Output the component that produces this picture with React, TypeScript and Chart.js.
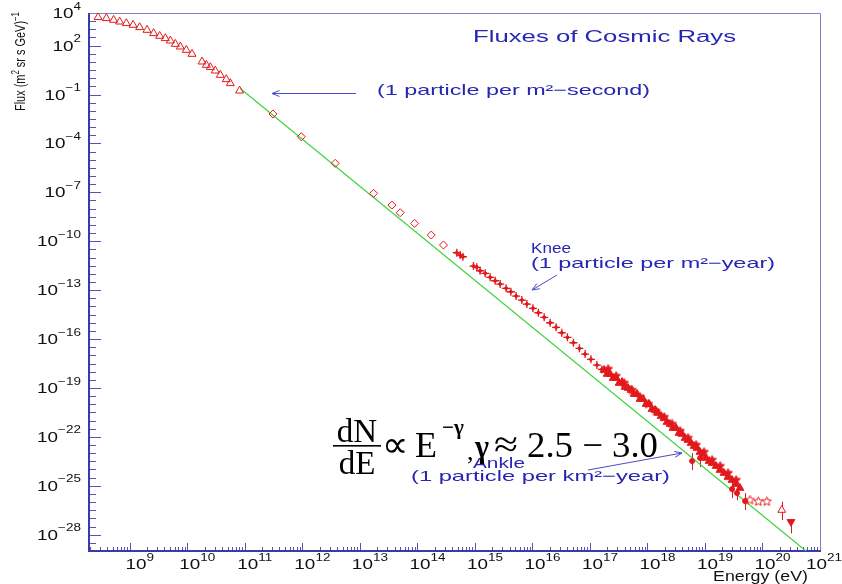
import { useEffect, useRef } from "react";
import { Chart, registerables } from "chart.js";

Chart.register(...registerables);

// Low-energy spectrum (open triangles): energy in eV, flux in (m² sr s GeV)⁻¹
const lowEnergyE = [2.8e8, 3.91e8, 5.22e8, 6.65e8, 8.69e8, 1.14e9, 1.48e9, 1.99e9, 2.59e9, 3.3e9, 4.14e9, 5.06e9, 6.18e9, 7.55e9, 9.59e9, 1.205e10, 1.8e10, 2.14e10, 2.51e10, 3.06e10, 3.74e10, 4.75e10, 5.58e10, 8.09e10];
const lowEnergyFlux = [5450, 4730, 3720, 2920, 2330, 1840, 1330, 906, 569, 388, 281, 200, 125, 85.7, 53.7, 30.5, 10.3, 6.46, 4.67, 2.88, 1.57, 0.857, 0.486, 0.171];

// Direct measurements (open diamonds)
const directE = [3.08e11, 9.57e11, 3.72e12, 1.73e13, 3.61e13, 5.02e13, 8.91e13, 1.74e14, 2.84e14];
const directFlux = [6.37e-3, 2.58e-4, 6.01e-6, 8.69e-8, 1.66e-8, 5.6e-9, 1.25e-9, 2.4e-10, 5.85e-11];

// Knee region (crosses)
const kneeE = [4.85e14, 5.55e14, 6.18e14, 9.44e14, 1.08e15, 1.23e15, 1.51e15, 1.84e15, 2.25e15, 2.75e15, 3.49e15, 4.22e15, 5.21e15, 6.55e15, 8.0e15, 1.02e16, 1.27e16, 1.6e16, 2.03e16, 2.58e16, 3.24e16, 4.06e16, 5.16e16, 6.56e16, 8.24e16, 1.04e17, 1.32e17, 1.61e17];
const kneeFlux = [1.97e-11, 1.42e-11, 1.12e-11, 3.01e-12, 2.51e-12, 1.55e-12, 1.07e-12, 6.1e-13, 3.78e-13, 2.37e-13, 1.29e-13, 7.98e-14, 4.35e-14, 2.47e-14, 1.4e-14, 7.64e-15, 4.1e-15, 2.14e-15, 1.0e-15, 5.22e-16, 2.44e-16, 1.27e-16, 5.93e-17, 2.69e-17, 1.2e-17, 5.69e-18, 2.54e-18, 1.38e-18];

// Air-shower data up to the ankle (filled triangles)
const ankleE = [1.76e17, 1.99e17, 2.24e17, 2.53e17, 2.85e17, 3.21e17, 3.62e17, 4.08e17, 4.6e17, 5.19e17, 5.85e17, 6.61e17, 7.45e17, 8.39e17, 9.46e17, 1.07e18, 1.2e18, 1.36e18, 1.53e18, 1.73e18, 1.95e18, 2.19e18, 2.47e18, 2.79e18, 3.14e18, 3.54e18, 4.0e18, 4.51e18, 5.08e18, 5.73e18, 6.46e18, 7.28e18, 8.2e18, 9.25e18, 1.04e19, 1.18e19, 1.33e19, 1.56e19, 1.83e19, 2.14e19, 2.52e19, 2.95e19, 3.47e19, 4.06e19];
const ankleFlux = [1.25e-18, 7.13e-19, 7.13e-19, 4.05e-19, 4.05e-19, 2.0e-19, 2.3e-19, 1.14e-19, 9.86e-20, 7.43e-20, 4.23e-20, 4.23e-20, 2.08e-20, 2.08e-20, 1.03e-20, 1.03e-20, 5.08e-21, 4.41e-21, 2.88e-21, 1.89e-21, 1.42e-21, 8.09e-22, 6.1e-22, 3.47e-22, 3.47e-22, 1.71e-22, 1.49e-22, 8.43e-23, 6.37e-23, 4.17e-23, 2.73e-23, 2.06e-23, 1.17e-23, 8.81e-24, 5.0e-24, 3.27e-24, 2.47e-24, 1.62e-24, 9.18e-25, 6.01e-25, 3.42e-25, 2.24e-25, 1.27e-25, 7.23e-26];

// Second air-shower set (stars)
const showerE = [2.07e17, 2.85e17, 3.93e17, 5.41e17, 7.45e17, 1.03e18, 1.41e18, 1.95e18, 2.68e18, 3.69e18, 5.08e18, 7.0e18, 9.64e18, 1.33e19, 1.83e19, 2.52e19, 3.47e19];
const showerFlux = [1.45e-18, 5.37e-19, 2.0e-19, 7.41e-20, 2.75e-20, 1.02e-20, 3.8e-21, 1.62e-21, 6.17e-22, 2.29e-22, 8.51e-23, 3.16e-23, 1.17e-23, 3.8e-24, 1.62e-24, 6.03e-25, 2.24e-25];

// Points above the ankle with error bars
const barE = [5.97e18, 8.22e18, 2.96e19, 3.61e19, 4.98e19];
const barFlux = [3.27e-24, 5.0e-24, 6.31e-26, 3.55e-26, 1.15e-26];
const barHigh = [1.0e-23, 1.55e-23, 2.24e-25, 8.32e-26, 3.55e-26];
const barLow = [9.18e-25, 1.4e-24, 1.76e-26, 1.32e-26, 3.24e-27];

// Highest-energy events
const topStarE = [6.08e19, 8.47e19, 1.19e20];
const topStarFlux = [1.33e-26, 1.07e-26, 1.07e-26];
const upTriE = [2.16e20];
const upTriFlux = [3.24e-27];
const upTriHigh = [1.05e-26];
const upTriLow = [7.94e-28];
const downTriE = [3.13e20];
const downTriFlux = [6.17e-28];
const downTriHigh = [8.0e-28];
const downTriLow = [1.2e-28];

// Power-law guide line
const powerLawE = [8.32e10, 5.71e20];
const powerLawFlux = [0.233, 1e-29];

// Axis labels (powers of ten)
const xLabelExps = [9, 10, 11, 12, 13, 14, 15, 16, 17, 18, 19, 20, 21];
const yLabelExps = [4, 2, -1, -4, -7, -10, -13, -16, -19, -22, -25, -28];

const RED = "#e2191c";
const GREEN = "#3fd33f";
const AXIS = "#3a3aa8";
const FRAME = "#8080c8";
const TICK = "#5656b0";
const TEXT_BLUE = "#2626b2";
const ARROW_BLUE = "#4a4ac4";
const SANS = '"Liberation Sans", Arial, sans-serif';
const SERIF = '"Liberation Serif", "Times New Roman", serif';

type Seg = { t: string; sup?: boolean };
type RichOpts = {
  size: number;
  color: string;
  align: "left" | "right" | "center";
  width?: number;
  sx?: number;
  supSize?: number;
  rise?: number;
  family?: string;
  weight?: string;
  maxRight?: number;
};

function drawRich(ctx: CanvasRenderingContext2D, segs: Seg[], x: number, y: number, o: RichOpts) {
  const family = o.family ?? SANS;
  const weight = o.weight ? o.weight + " " : "";
  const supSize = o.supSize ?? o.size * 0.72;
  const rise = o.rise ?? o.size * 0.42;
  const widths = segs.map((s) => {
    ctx.font = `${weight}${s.sup ? supSize : o.size}px ${family}`;
    return ctx.measureText(s.t).width;
  });
  const natural = widths.reduce((p, c) => p + c, 0);
  const sx = o.width ? o.width / natural : o.sx ?? 1;
  const total = natural * sx;
  let cx = o.align === "right" ? x - total : o.align === "center" ? x - total / 2 : x;
  if (o.maxRight !== undefined && cx + total > o.maxRight) cx = o.maxRight - total;
  ctx.save();
  ctx.fillStyle = o.color;
  ctx.textAlign = "left";
  ctx.textBaseline = "alphabetic";
  segs.forEach((s, i) => {
    ctx.font = `${weight}${s.sup ? supSize : o.size}px ${family}`;
    ctx.save();
    ctx.translate(cx, y - (s.sup ? rise : 0));
    ctx.scale(sx, 1);
    ctx.fillText(s.t, 0, 0);
    ctx.restore();
    cx += widths[i] * sx;
  });
  ctx.restore();
}

function powerSegs(exp: number): Seg[] {
  const e = exp < 0 ? "\u2212" + Math.abs(exp) : String(exp);
  return [{ t: "10" }, { t: e, sup: true }];
}

function arrow(ctx: CanvasRenderingContext2D, x0: number, y0: number, x1: number, y1: number) {
  const ang = Math.atan2(y1 - y0, x1 - x0);
  const h = 8;
  ctx.save();
  ctx.strokeStyle = ARROW_BLUE;
  ctx.lineWidth = 1;
  ctx.beginPath();
  ctx.moveTo(x0, y0);
  ctx.lineTo(x1, y1);
  ctx.moveTo(x1 - h * Math.cos(ang - 0.38), y1 - h * Math.sin(ang - 0.38));
  ctx.lineTo(x1, y1);
  ctx.lineTo(x1 - h * Math.cos(ang + 0.38), y1 - h * Math.sin(ang + 0.38));
  ctx.stroke();
  ctx.restore();
}

function makeStar(size: number, filled: boolean): HTMLCanvasElement {
  const c = document.createElement("canvas");
  c.width = size;
  c.height = size;
  const g = c.getContext("2d")!;
  const cx = size / 2;
  const R = size / 2 - 0.8;
  const r = R * 0.45;
  g.beginPath();
  for (let i = 0; i < 10; i++) {
    const a = -Math.PI / 2 + (i * Math.PI) / 5;
    const rr = i % 2 ? r : R;
    g.lineTo(cx + rr * Math.cos(a), cx + rr * Math.sin(a));
  }
  g.closePath();
  if (filled) {
    g.fillStyle = RED;
    g.fill();
  }
  g.strokeStyle = RED;
  g.lineWidth = 1;
  g.stroke();
  return c;
}

const pts = (xs: number[], ys: number[]) => xs.map((v, i) => ({ x: v, y: ys[i] }));

const decorPlugin = {
  id: "decor",
  beforeDatasetsDraw(chart: any) {
    const { ctx, chartArea: a, scales } = chart;
    const x = scales.x;
    const y = scales.y;
    ctx.save();

    // ticks on the bottom axis (decades and 2..9 subdivisions)
    ctx.strokeStyle = TICK;
    ctx.lineWidth = 1;
    ctx.beginPath();
    for (let d = 8; d <= 21; d++) {
      for (let m = 1; m <= 9; m++) {
        const v = m * Math.pow(10, d);
        if (v < x.min * 0.999 || v > x.max * 1.001) continue;
        const px = Math.round(x.getPixelForValue(v)) + 0.5;
        const len = m === 1 ? 8 : 4;
        ctx.moveTo(px, a.bottom);
        ctx.lineTo(px, a.bottom - len);
      }
    }
    // ticks on the left axis, every half decade
    for (let k = -58; k <= 8; k++) {
      const e = k / 2;
      const py = Math.round(y.getPixelForValue(Math.pow(10, e))) + 0.5;
      const labelled = k % 2 === 0 && yLabelExps.includes(e);
      const len = labelled ? 12 : 7;
      ctx.moveTo(a.left, py);
      ctx.lineTo(a.left + len, py);
    }
    ctx.stroke();

    // frame
    ctx.strokeStyle = FRAME;
    ctx.lineWidth = 1;
    ctx.beginPath();
    ctx.moveTo(a.left, a.top + 0.5);
    ctx.lineTo(a.right + 0.5, a.top + 0.5);
    ctx.lineTo(a.right + 0.5, a.bottom);
    ctx.stroke();
    ctx.strokeStyle = AXIS;
    ctx.lineWidth = 2;
    ctx.beginPath();
    ctx.moveTo(a.left, a.top);
    ctx.lineTo(a.left, a.bottom);
    ctx.lineTo(a.right + 1, a.bottom);
    ctx.stroke();

    // tick labels
    yLabelExps.forEach((e) => {
      const py = y.getPixelForValue(Math.pow(10, e));
      drawRich(ctx, powerSegs(e), 81, py + 5, { size: 14, supSize: 10, rise: 8.4, sx: 1.35, color: "#111", align: "right" });
    });
    xLabelExps.forEach((e) => {
      const px = x.getPixelForValue(Math.pow(10, e));
      drawRich(ctx, powerSegs(e), px + 10, 569, { size: 14, supSize: 10, rise: 8.4, sx: 1.35, color: "#111", align: "center", maxRight: 842 });
    });

    // axis titles
    drawRich(ctx, [{ t: "Energy (eV)" }], 808, 581, { size: 14, width: 95, color: "#111", align: "right" });
    ctx.save();
    ctx.translate(25, 111);
    ctx.rotate(-Math.PI / 2);
    drawRich(
      ctx,
      [{ t: "Flux (m" }, { t: "2", sup: true }, { t: " sr s GeV)" }, { t: "\u22121", sup: true }],
      0,
      0,
      { size: 14, width: 99, color: "#111", align: "left" }
    );
    ctx.restore();

    // title and annotations
    drawRich(ctx, [{ t: "Fluxes of Cosmic Rays" }], 473, 42, { size: 16, width: 263, color: TEXT_BLUE, align: "left" });
    drawRich(ctx, [{ t: "(1 particle per m\u00b2\u2212second)" }], 377, 95, { size: 15, width: 273, color: TEXT_BLUE, align: "left" });
    arrow(ctx, 356, 93.5, 272, 93.5);
    drawRich(ctx, [{ t: "Knee" }], 531, 253, { size: 15, width: 40, color: TEXT_BLUE, align: "left" });
    drawRich(ctx, [{ t: "(1 particle per m\u00b2\u2212year)" }], 531, 268, { size: 15, width: 244, color: TEXT_BLUE, align: "left" });
    arrow(ctx, 557, 275, 532, 290);
    drawRich(ctx, [{ t: "Ankle" }], 473, 468, { size: 15, width: 52, color: TEXT_BLUE, align: "left" });
    drawRich(ctx, [{ t: "(1 particle per km\u00b2\u2212year)" }], 411, 481, { size: 15, width: 259, color: TEXT_BLUE, align: "left" });
    arrow(ctx, 588, 470, 682, 453);

    // error bars
    ctx.strokeStyle = RED;
    ctx.lineWidth = 1;
    ctx.beginPath();
    const bars = (xs: number[], hi: number[], lo: number[]) =>
      xs.forEach((v, i) => {
        const px = Math.round(x.getPixelForValue(v)) + 0.5;
        ctx.moveTo(px, y.getPixelForValue(hi[i]));
        ctx.lineTo(px, y.getPixelForValue(lo[i]));
      });
    bars(barE, barHigh, barLow);
    bars(upTriE, upTriHigh, upTriLow);
    bars(downTriE, downTriHigh, downTriLow);
    ctx.stroke();
    ctx.restore();
  },
  afterDatasetsDraw(chart: any) {
    const { ctx } = chart;
    ctx.save();
    ctx.fillStyle = "#000";
    ctx.textBaseline = "alphabetic";
    ctx.textAlign = "center";
    ctx.font = `33px ${SERIF}`;
    ctx.fillText("dN", 357, 442);
    ctx.fillText("dE", 357, 474);
    ctx.fillRect(333, 445, 48, 1.6);
    ctx.textAlign = "left";
    ctx.font = `37px ${SERIF}`;
    ctx.fillText("\u221d", 382, 457);
    ctx.font = `36px ${SERIF}`;
    ctx.fillText("E", 415, 457);
    ctx.font = `bold 21px ${SERIF}`;
    ctx.fillText("\u2212\u03b3", 442, 434);
    ctx.font = `26px ${SERIF}`;
    ctx.fillText(",", 467, 460);
    ctx.restore();
    drawRich(ctx, [{ t: "\u03b3" }], 475, 457, { size: 32, width: 14, color: "#000", align: "left", family: SERIF, weight: "bold" });
    drawRich(ctx, [{ t: "\u2248" }], 494, 457, { size: 38, width: 24, color: "#000", align: "left", family: SERIF });
    drawRich(ctx, [{ t: "2.5 \u2212 3.0" }], 527, 457, { size: 36, width: 131, color: "#000", align: "left", family: SERIF });
  },
};

export default function App() {
  const ref = useRef<HTMLCanvasElement | null>(null);

  useEffect(() => {
    if (!ref.current) return;
    const openStar = makeStar(11, false);
    const filledStar = makeStar(11, true);
    const clear = "rgba(0,0,0,0)";
    const chart = new Chart(ref.current, {
      type: "scatter",
      data: {
        datasets: [
          { label: "ankle", data: pts(ankleE, ankleFlux), pointStyle: "triangle", pointRadius: 4.5, pointBackgroundColor: RED, pointBorderColor: RED, pointBorderWidth: 1 },
          { label: "shower", data: pts(showerE, showerFlux), pointStyle: filledStar, pointRadius: 5, pointBackgroundColor: RED, pointBorderColor: RED },
          { label: "bars", data: pts(barE, barFlux), pointStyle: "circle", pointRadius: 2.5, pointBackgroundColor: RED, pointBorderColor: RED, pointBorderWidth: 1 },
          { label: "top stars", data: pts(topStarE, topStarFlux), pointStyle: openStar, pointRadius: 5, pointBackgroundColor: clear, pointBorderColor: RED },
          { label: "up", data: pts(upTriE, upTriFlux), pointStyle: "triangle", pointRadius: 4.5, pointBackgroundColor: "#fff", pointBorderColor: RED, pointBorderWidth: 1 },
          { label: "down", data: pts(downTriE, downTriFlux), pointStyle: "triangle", pointRotation: 180, pointRadius: 4.5, pointBackgroundColor: RED, pointBorderColor: RED, pointBorderWidth: 1 },
          { label: "knee dots", data: pts(kneeE, kneeFlux), pointStyle: "rectRot", pointRadius: 2, pointBackgroundColor: RED, pointBorderColor: RED, pointBorderWidth: 1 },
          { label: "knee", data: pts(kneeE, kneeFlux), pointStyle: "cross", pointRadius: 4, pointBorderColor: RED, pointBorderWidth: 1.3 },
          { label: "direct", data: pts(directE, directFlux), pointStyle: "rectRot", pointRadius: 4, pointBackgroundColor: clear, pointBorderColor: RED, pointBorderWidth: 1 },
          { label: "low energy", data: pts(lowEnergyE, lowEnergyFlux), pointStyle: "triangle", pointRadius: 4.6, pointBackgroundColor: clear, pointBorderColor: RED, pointBorderWidth: 1 },
          { label: "power law", data: pts(powerLawE, powerLawFlux), showLine: true, borderColor: GREEN, borderWidth: 1.2, pointRadius: 0 },
        ],
      },
      options: {
        animation: false,
        responsive: false,
        devicePixelRatio: 1,
        events: [],
        layout: { padding: { left: 89, right: 22, top: 13, bottom: 33 } },
        plugins: { legend: { display: false }, tooltip: { enabled: false } },
        scales: {
          x: { type: "logarithmic", min: 1.95e8, max: 1e21, bounds: "data", display: false },
          y: { type: "logarithmic", min: 1e-29, max: 1e4, bounds: "data", display: false },
        },
      },
      plugins: [decorPlugin],
    });
    return () => chart.destroy();
  }, []);

  return (
    <div style={{ position: "absolute", left: 0, top: 0, width: 842, height: 584, background: "#fff" }}>
      <canvas ref={ref} width={842} height={584} style={{ display: "block" }} />
    </div>
  );
}
